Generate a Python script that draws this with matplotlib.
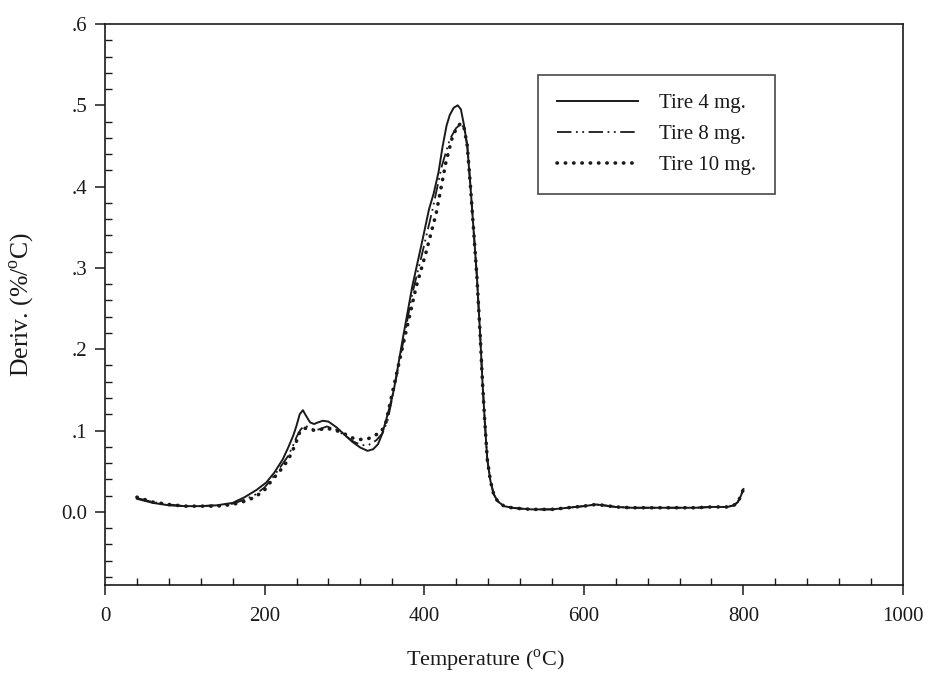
import numpy as np
import matplotlib
matplotlib.use("Agg")
import matplotlib.pyplot as plt

plt.rcParams["font.family"] = ["Liberation Serif", "DejaVu Serif"]
plt.rcParams["mathtext.fontset"] = "custom"
plt.rcParams["mathtext.rm"] = "Liberation Serif"

# ---- 数据----
tail_x = [458, 462, 466, 470, 473, 476, 479, 483, 487, 492, 500, 510, 520, 535, 560,
          580, 600, 615, 625, 640, 660, 680, 700, 720, 740, 760, 780, 788, 793, 797, 800]
tail_y = [0.400, 0.345, 0.290, 0.220, 0.160, 0.110, 0.065, 0.038, 0.022, 0.013, 0.007,
          0.005, 0.004, 0.003, 0.003, 0.005, 0.007, 0.009, 0.008, 0.006, 0.005, 0.005,
          0.005, 0.005, 0.005, 0.006, 0.006, 0.008, 0.012, 0.020, 0.028]

t4_x = [40, 60, 80, 100, 120, 140, 160, 175, 190, 202, 212, 223, 230, 236, 240, 244, 248,
        252, 257, 262, 267, 273, 280, 290, 300, 310, 320, 329, 336, 342, 347, 352, 357, 362,
        373, 385, 398, 406, 412, 418, 423, 428, 432, 437, 442, 446, 450, 454] + tail_x
t4_y = [0.016, 0.011, 0.008, 0.007, 0.007, 0.008, 0.011, 0.018, 0.027, 0.036, 0.048,
        0.065, 0.080, 0.094, 0.106, 0.120, 0.125, 0.118, 0.110, 0.108, 0.110, 0.112,
        0.111, 0.104, 0.095, 0.086, 0.079, 0.075, 0.077, 0.083, 0.095, 0.112, 0.130, 0.150,
        0.212, 0.277, 0.335, 0.372, 0.392, 0.418, 0.449, 0.475, 0.488, 0.497, 0.500,
        0.495, 0.475, 0.450] + tail_y

t8_x = [40, 60, 80, 100, 120, 140, 160, 175, 188, 200, 210, 219, 229, 235, 240, 245, 250,
        256, 263, 270, 278, 290, 302, 312, 322, 330, 340, 348, 354, 360, 372, 385, 398,
        410, 422, 432, 440, 446, 450, 454] + tail_x
t8_y = [0.017, 0.012, 0.009, 0.007, 0.007, 0.008, 0.010, 0.015, 0.021, 0.030, 0.042,
        0.054, 0.068, 0.080, 0.092, 0.101, 0.106, 0.104, 0.100, 0.102, 0.105, 0.101,
        0.093, 0.086, 0.082, 0.082, 0.088, 0.097, 0.112, 0.140, 0.200, 0.268, 0.320,
        0.370, 0.425, 0.458, 0.472, 0.477, 0.472, 0.450] + tail_y

t10_x = [40, 60, 80, 100, 120, 140, 160, 175, 188, 200, 210, 219, 229, 235, 240, 244, 250,
         257, 265, 277, 290, 302, 312, 320, 330, 340, 346, 352, 360, 375, 390, 402, 415,
         427, 435, 441, 446, 450, 454] + tail_x
t10_y = [0.018, 0.012, 0.009, 0.007, 0.007, 0.007, 0.009, 0.013, 0.018, 0.027, 0.040,
         0.050, 0.063, 0.075, 0.087, 0.098, 0.103, 0.101, 0.100, 0.103, 0.100, 0.095,
         0.090, 0.089, 0.090, 0.095, 0.098, 0.110, 0.146, 0.212, 0.277, 0.318, 0.367,
         0.429, 0.460, 0.473, 0.478, 0.472, 0.450] + tail_y

legend_labels = ["Tire 4 mg.", "Tire 8 mg.", "Tire 10 mg."]
x_ticks = [0, 200, 400, 600, 800, 1000]
y_ticks = [0.0, 0.1, 0.2, 0.3, 0.4, 0.5, 0.6]
y_tick_labels = ["0.0", ".1", ".2", ".3", ".4", ".5", ".6"]

# ---- 绘图 ----
ink = "#1a1a1a"
fig = plt.figure(figsize=(9.29, 6.8), dpi=100)
ax = fig.add_axes([105 / 929, 95 / 680, 798 / 929, 561 / 680])

ax.plot(t4_x, t4_y, color=ink, lw=1.4, ls="-", label=legend_labels[0])
ax.plot(t8_x, t8_y, color=ink, lw=1.3, ls=(0, (8, 2.5, 1, 2.5, 1, 2.5)),
        label=legend_labels[1])
ax.plot(t10_x, t10_y, color=ink, lw=2.6, ls=(0, (0.1, 2.2)),
        dash_capstyle="round", label=legend_labels[2])

ax.set_xlim(0, 1000)
ax.set_ylim(-0.09, 0.6)
ax.set_xticks(x_ticks)
ax.set_xticklabels([str(v) for v in x_ticks])
ax.set_yticks(y_ticks)
ax.set_yticklabels(y_tick_labels)
ax.set_xticks(np.arange(40, 1000, 40), minor=True)
ax.set_yticks(np.arange(-0.08, 0.6, 0.02), minor=True)

ax.tick_params(axis="both", which="major", direction="out", length=7, width=1.1,
               colors=ink, labelsize=15, top=False, right=False)
ax.tick_params(axis="both", which="minor", direction="in", length=5, width=1.0,
               colors=ink, top=False, right=False)
ax.tick_params(axis="x", which="major", pad=9)
ax.tick_params(axis="y", which="major", pad=6)
for sp in ax.spines.values():
    sp.set_linewidth(1.2)
    sp.set_color(ink)

ax.set_xlabel("Temperature ($^{\\mathrm{o}}$C)", fontsize=16, color=ink)
ax.xaxis.set_label_coords(0.476, -0.112)
ax.set_ylabel("Deriv. (%/$^{\\mathrm{o}}$C)", fontsize=18.5, color=ink)
ax.yaxis.set_label_coords(-0.086, 0.5)

leg = ax.legend(loc="upper left", bbox_to_anchor=(0.5426, 0.909), borderaxespad=0,
                fontsize=15, handlelength=3.9, handletextpad=1.0, labelspacing=0.55,
                borderpad=0.9, fancybox=False, frameon=True)
leg.get_frame().set_edgecolor(ink)
leg.get_frame().set_linewidth(1.2)
for t in leg.get_texts():
    t.set_color(ink)

fig.savefig("out.png", dpi=100)
